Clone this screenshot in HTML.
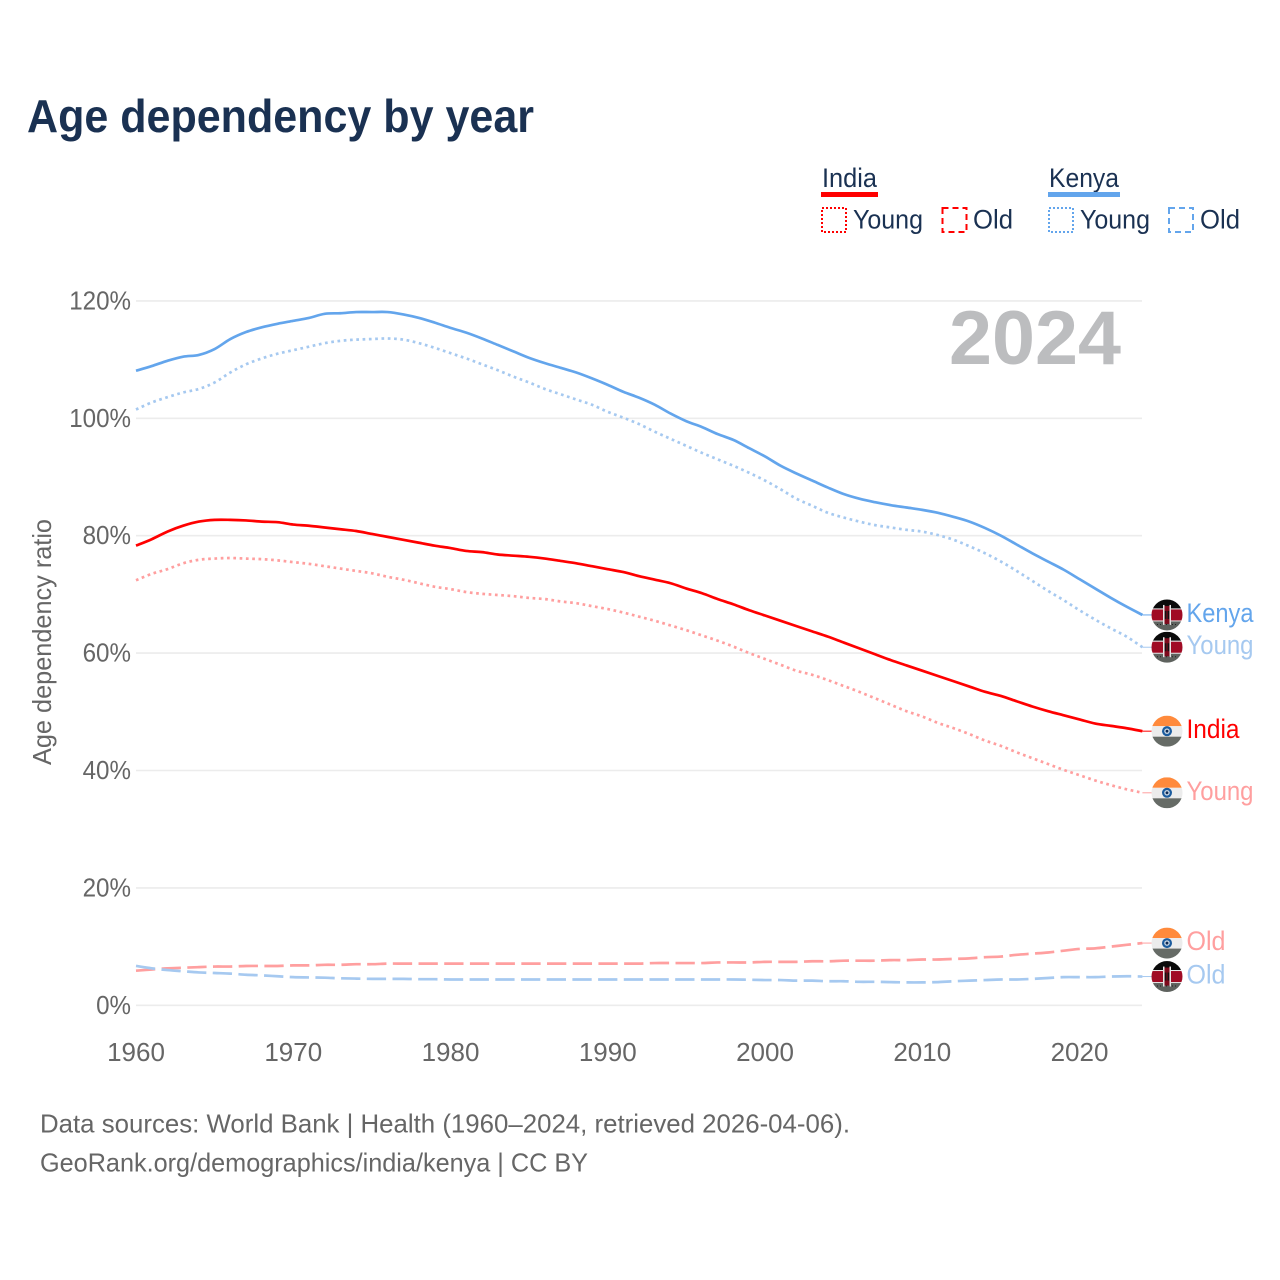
<!DOCTYPE html>
<html lang="en">
<head>
<meta charset="utf-8">
<title>Age dependency by year</title>
<style>
html,body{margin:0;padding:0;background:#fff;}
svg{display:block;}
text{font-family:"Liberation Sans",sans-serif;}
</style>
</head>
<body>
<svg id="chart" xmlns="http://www.w3.org/2000/svg" width="1280" height="1280" viewBox="0 0 1280 1280">
  <rect x="0" y="0" width="1280" height="1280" fill="#fff"/>
  <text x="27" y="132" font-size="46" font-weight="700" fill="#1a3152" textLength="507" lengthAdjust="spacingAndGlyphs">Age dependency by year</text>

  <g>
    <text x="822" y="187" font-size="27" fill="#1a3152" textLength="55" lengthAdjust="spacingAndGlyphs">India</text>
    <rect x="821" y="192" width="57" height="5" fill="#ff0000"/>
    <rect x="822" y="208" width="24" height="24" fill="none" stroke="#ff0000" stroke-width="2" stroke-dasharray="2 2"/>
    <text x="853" y="228.500" font-size="27" fill="#1a3152" textLength="70" lengthAdjust="spacingAndGlyphs">Young</text>
    <rect x="942.500" y="208" width="24" height="24" fill="none" stroke="#ff0000" stroke-width="2" stroke-dasharray="6 4"/>
    <text x="973" y="228.500" font-size="27" fill="#1a3152" textLength="40" lengthAdjust="spacingAndGlyphs">Old</text>

    <text x="1049" y="187" font-size="27" fill="#1a3152" textLength="70" lengthAdjust="spacingAndGlyphs">Kenya</text>
    <rect x="1048" y="192" width="72" height="5" fill="#63a5ec"/>
    <rect x="1049" y="208" width="24" height="24" fill="none" stroke="#63a5ec" stroke-width="2" stroke-dasharray="2 2"/>
    <text x="1080" y="228.500" font-size="27" fill="#1a3152" textLength="70" lengthAdjust="spacingAndGlyphs">Young</text>
    <rect x="1169" y="208" width="24" height="24" fill="none" stroke="#63a5ec" stroke-width="2" stroke-dasharray="6 4"/>
    <text x="1200" y="228.500" font-size="27" fill="#1a3152" textLength="40" lengthAdjust="spacingAndGlyphs">Old</text>
  </g>

  <g id="grid"></g>
  <g id="yticks"></g>
  <g id="xticks"></g>
  <text transform="translate(51,765) rotate(-90)" x="0" y="0" font-size="26" fill="#666" textLength="246" lengthAdjust="spacingAndGlyphs">Age dependency ratio</text>
  <text x="949" y="364" font-size="76" font-weight="700" fill="#bcbdbf" textLength="172" lengthAdjust="spacingAndGlyphs">2024</text>

  <g id="series"></g>
  <g id="ends"></g>

  <text x="40" y="1132.500" font-size="26" fill="#666" textLength="810" lengthAdjust="spacingAndGlyphs">Data sources: World Bank | Health (1960–2024, retrieved 2026-04-06).</text>
  <text x="40" y="1171.500" font-size="26" fill="#666" textLength="548" lengthAdjust="spacingAndGlyphs">GeoRank.org/demographics/india/kenya | CC BY</text>
</svg>
<script>
const startYear = 1960;
const xTickYears = [1960, 1970, 1980, 1990, 2000, 2010, 2020];
const yTickValues = [0, 20, 40, 60, 80, 100, 120];
const yTickLabels = ['0%', '20%', '40%', '60%', '80%', '100%', '120%'];

const indiaTotal = [78.3,79.4,80.7,81.7,82.4,82.7,82.7,82.6,82.4,82.3,81.9,81.7,81.4,81.1,80.8,80.3,79.8,79.3,78.8,78.3,77.9,77.4,77.2,76.8,76.6,76.4,76.1,75.7,75.3,74.8,74.3,73.8,73.1,72.5,71.9,71.0,70.2,69.2,68.3,67.3,66.4,65.5,64.6,63.7,62.8,61.8,60.8,59.8,58.8,57.9,57.0,56.1,55.2,54.3,53.4,52.7,51.8,50.9,50.1,49.4,48.7,48.0,47.6,47.2,46.7];
const indiaYoung = [72.4,73.5,74.3,75.3,75.9,76.1,76.2,76.1,76.0,75.8,75.5,75.2,74.8,74.4,74.0,73.6,73.0,72.5,71.9,71.3,70.9,70.4,70.1,69.9,69.7,69.4,69.2,68.8,68.5,68.0,67.5,66.9,66.2,65.5,64.7,63.9,63.0,62.1,61.1,60.0,59.0,58.0,57.0,56.3,55.4,54.4,53.4,52.3,51.2,50.1,49.2,48.1,47.2,46.2,45.1,44.2,43.1,42.1,41.1,40.1,39.2,38.3,37.5,36.8,36.2];
const indiaOld = [5.9,6.1,6.3,6.4,6.5,6.6,6.6,6.7,6.7,6.7,6.8,6.8,6.9,6.9,7.0,7.0,7.1,7.1,7.1,7.1,7.1,7.1,7.1,7.1,7.1,7.1,7.1,7.1,7.1,7.1,7.1,7.1,7.1,7.2,7.2,7.2,7.2,7.3,7.3,7.3,7.4,7.4,7.4,7.5,7.5,7.6,7.6,7.6,7.7,7.7,7.8,7.8,7.9,8.0,8.2,8.3,8.6,8.8,9.0,9.3,9.6,9.7,10.0,10.3,10.6];
const kenyaTotal = [108.1,108.9,109.8,110.5,110.8,111.8,113.5,114.7,115.5,116.1,116.6,117.1,117.8,117.9,118.1,118.1,118.1,117.7,117.1,116.3,115.4,114.6,113.6,112.5,111.4,110.3,109.4,108.6,107.8,106.8,105.7,104.5,103.5,102.3,100.8,99.5,98.5,97.3,96.3,94.9,93.5,91.9,90.6,89.4,88.2,87.1,86.3,85.7,85.2,84.8,84.4,83.9,83.2,82.4,81.3,80.0,78.5,77.0,75.6,74.2,72.6,71.0,69.4,67.9,66.5];
const kenyaYoung = [101.5,102.7,103.6,104.4,105.0,106.1,107.8,109.2,110.2,111.0,111.6,112.2,112.8,113.2,113.4,113.5,113.6,113.4,112.8,112.0,111.1,110.2,109.2,108.2,107.1,106.1,105.0,104.1,103.2,102.3,101.1,100.1,99.0,97.7,96.5,95.3,94.1,93.0,91.9,90.7,89.4,87.9,86.3,85.1,83.9,83.1,82.4,81.8,81.4,81.0,80.7,80.1,79.3,78.2,77.0,75.6,74.0,72.3,70.6,69.0,67.3,65.7,64.2,62.8,61.0];
const kenyaOld = [6.7,6.3,6.0,5.8,5.6,5.5,5.4,5.2,5.1,4.95,4.8,4.75,4.7,4.6,4.55,4.5,4.5,4.5,4.45,4.45,4.4,4.4,4.4,4.4,4.4,4.4,4.4,4.4,4.4,4.4,4.4,4.4,4.4,4.4,4.4,4.4,4.4,4.4,4.4,4.35,4.3,4.3,4.2,4.2,4.1,4.1,4.0,4.0,3.95,3.9,3.9,3.95,4.1,4.2,4.3,4.4,4.4,4.5,4.65,4.8,4.8,4.8,4.9,4.95,4.9];

const NS = 'http://www.w3.org/2000/svg';
const xScale = yr => 136 + (yr - 1960) * 15.725;
const yScale = v => 1005.3 - v * 5.87;
const gridLayer = document.getElementById('grid');
const yTickLayer = document.getElementById('yticks');
const xTickLayer = document.getElementById('xticks');
const seriesLayer = document.getElementById('series');
const endLayer = document.getElementById('ends');

function make(tag, attrs, parent) {
  const el = document.createElementNS(NS, tag);
  for (const k in attrs) el.setAttribute(k, attrs[k]);
  parent.appendChild(el);
  return el;
}

yTickValues.forEach((v, i) => {
  const line = make('line', {x1: 136, x2: 1142, y1: yScale(v), y2: yScale(v), stroke: '#ececec', 'stroke-width': 1.6}, gridLayer);
  
  
  const t = make('text', {x: 131, y: yScale(v) + 8.5, 'text-anchor': 'end', 'font-size': 26, fill: '#666'}, yTickLayer);
  
  
  t.textContent = yTickLabels[i];
  t.setAttribute('textLength', (t.getComputedTextLength() * 0.93).toFixed(1));
  t.setAttribute('lengthAdjust', 'spacingAndGlyphs');
});

xTickYears.forEach(yr => {
  const t = make('text', {x: xScale(yr), y: 1061, 'text-anchor': 'middle', 'font-size': 26, fill: '#666'}, xTickLayer);
  
  
  t.textContent = String(yr);
});

function smoothPath(values) {
  const px = values.map((v, i) => [xScale(startYear + i), yScale(v)]);
  let d = 'M' + px[0][0].toFixed(2) + ' ' + px[0][1].toFixed(2);
  for (let i = 0; i < px.length - 1; i++) {
    const p0 = px[Math.max(i - 1, 0)], p1 = px[i], p2 = px[i + 1], p3 = px[Math.min(i + 2, px.length - 1)];
    const c1x = p1[0] + (p2[0] - p0[0]) / 6, c1y = p1[1] + (p2[1] - p0[1]) / 6;
    const c2x = p2[0] - (p3[0] - p1[0]) / 6, c2y = p2[1] - (p3[1] - p1[1]) / 6;
    d += 'C' + c1x.toFixed(2) + ' ' + c1y.toFixed(2) + ' ' + c2x.toFixed(2) + ' ' + c2y.toFixed(2) + ' ' + p2[0].toFixed(2) + ' ' + p2[1].toFixed(2);
  }
  return d;
}

function drawLine(values, color, dash, name) {
  const attrs = {d: smoothPath(values), fill: 'none', stroke: color, 'stroke-width': 2.7, 'stroke-linejoin': 'round'};
  if (dash) attrs['stroke-dasharray'] = dash;
  const line = make('path', attrs, seriesLayer);
  
  
}

const RED = '#ff0000', RED_L = '#ff9f9f', BLUE = '#63a5ec', BLUE_L = '#a6c9f0';
const DOT = '2.7 3.6', DASH = '19.3 6.4';
drawLine(indiaTotal, RED, null, 'india-total-line');
drawLine(indiaYoung, RED_L, DOT, 'india-young-line');
drawLine(indiaOld, RED_L, DASH, 'india-old-line');
drawLine(kenyaTotal, BLUE, null, 'kenya-total-line');
drawLine(kenyaYoung, BLUE_L, DOT, 'kenya-young-line');
drawLine(kenyaOld, BLUE_L, DASH, 'kenya-old-line');

function indiaFlag(g, id, cy) {
  const cx = 1167, r = 15.5;
  const clip = make('clipPath', {id: id}, g);
  make('circle', {cx: cx, cy: cy, r: r}, clip);
  const b = make('g', {'clip-path': 'url(#' + id + ')'}, g);
  make('rect', {x: cx - r, y: cy - r, width: 2 * r, height: 10.5, fill: '#ff8a3c'}, b);
  make('rect', {x: cx - r, y: cy - 5, width: 2 * r, height: 10.5, fill: '#ececec'}, b);
  make('rect', {x: cx - r, y: cy + 5.5, width: 2 * r, height: 10, fill: '#666b66'}, b);
  make('circle', {cx: cx, cy: cy, r: 5, fill: '#1c5c9e'}, b);
  make('circle', {cx: cx, cy: cy, r: 2.8, fill: '#c6d4e2'}, b);
  make('circle', {cx: cx, cy: cy, r: 1.4, fill: '#0d2a55'}, b);
}

function kenyaFlag(g, id, cy) {
  const cx = 1167, r = 15.5;
  const clip = make('clipPath', {id: id}, g);
  make('circle', {cx: cx, cy: cy, r: r}, clip);
  const b = make('g', {'clip-path': 'url(#' + id + ')'}, g);
  make('rect', {x: cx - r, y: cy - r, width: 2 * r, height: 9, fill: '#0a0a0a'}, b);
  make('rect', {x: cx - r, y: cy - 6.5, width: 2 * r, height: 13, fill: '#e8e8e8'}, b);
  make('rect', {x: cx - r, y: cy - 5.5, width: 2 * r, height: 11, fill: '#a00b24'}, b);
  make('rect', {x: cx - r, y: cy + 6.5, width: 2 * r, height: 9, fill: '#5e625e'}, b);
  make('line', {x1: cx - 10, x2: cx + 10, y1: cy + 9.5, y2: cy + 9.5, stroke: '#222', 'stroke-width': 1, 'stroke-dasharray': '1 2'}, b);
  make('rect', {x: cx - 4, y: cy - 9, width: 8, height: 18, fill: '#7e0a1c'}, b);
  make('rect', {x: cx - 4, y: cy - 10, width: 1.5, height: 20, fill: '#e8e8e8'}, b);
  make('rect', {x: cx + 2.5, y: cy - 10, width: 1.5, height: 20, fill: '#e8e8e8'}, b);
  make('rect', {x: cx - 2.2, y: cy - 4, width: 1.6, height: 8, fill: '#111'}, b);
  make('rect', {x: cx + 0.6, y: cy - 4, width: 1.6, height: 8, fill: '#111'}, b);
}

function drawEnd(values, color, label, country, id, width) {
  const last = values[values.length - 1];
  const cy = yScale(last);
  const g = make('g', {}, endLayer);
  
  
  make('line', {x1: xScale(2024), x2: 1152, y1: cy, y2: cy, stroke: color, 'stroke-width': 1}, g);
  if (country === 'india') indiaFlag(g, id + '-clip', cy); else kenyaFlag(g, id + '-clip', cy);
  const t = make('text', {x: 1186.5, y: cy + 7, 'font-size': 27, fill: color, textLength: width, lengthAdjust: 'spacingAndGlyphs'}, g);
  
  
  t.textContent = label;
}

drawEnd(kenyaTotal, BLUE, 'Kenya', 'kenya', 'kenya-total', 67);
drawEnd(kenyaYoung, BLUE_L, 'Young', 'kenya', 'kenya-young', 67);
drawEnd(indiaTotal, RED, 'India', 'india', 'india-total', 53);
drawEnd(indiaYoung, RED_L, 'Young', 'india', 'india-young', 67);
drawEnd(indiaOld, RED_L, 'Old', 'india', 'india-old', 39);
drawEnd(kenyaOld, BLUE_L, 'Old', 'kenya', 'kenya-old', 39);
</script>
</body>
</html>
